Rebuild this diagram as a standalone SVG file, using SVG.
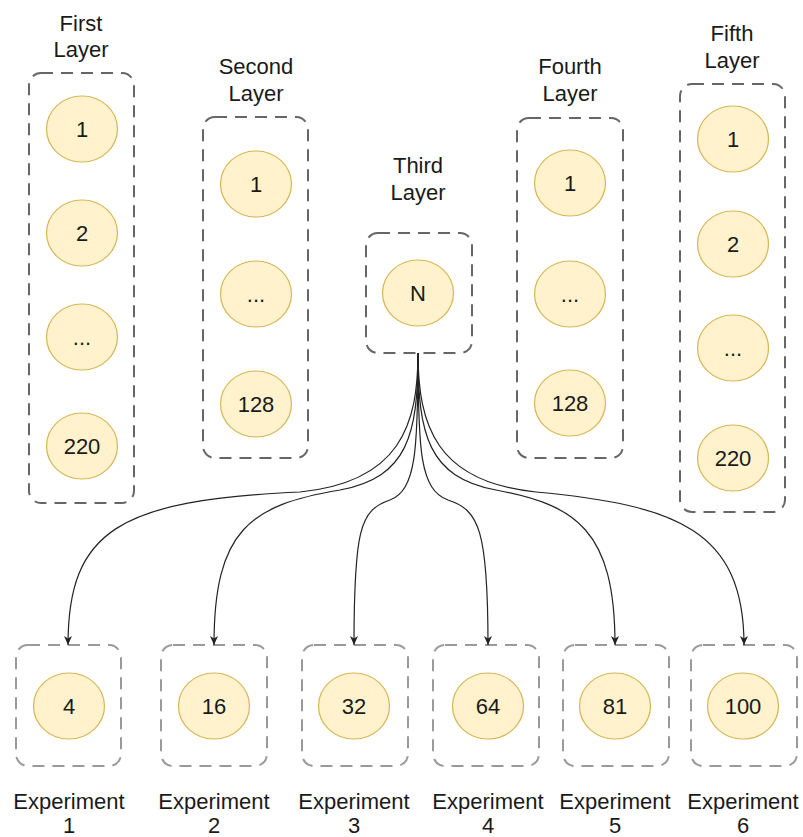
<svg xmlns="http://www.w3.org/2000/svg" width="803" height="837" viewBox="0 0 803 837">
  <style>
    .box { fill: none; stroke: #666; stroke-width: 2; stroke-dasharray: 12 8; }
    .exp { fill: none; stroke: #999; stroke-width: 2; stroke-dasharray: 12 8; }
    .neuron { fill: #fff2cc; stroke: #d6b656; stroke-width: 1.2; }
    .t { font-family: "Liberation Sans", Arial, Helvetica, sans-serif; font-size: 22px; fill: #1a1a1a; text-anchor: middle; }
    .edge { fill: none; stroke: #222; stroke-width: 1.2; marker-end: url(#arrow); }
  </style>
  <defs>
    <marker id="arrow" markerUnits="userSpaceOnUse" markerWidth="10" markerHeight="8" refX="9" refY="4" orient="auto">
      <path d="M0,0 L9,4 L0,8 L2.5,4 z" fill="#222"/>
    </marker>
  </defs>
  <rect width="803" height="837" fill="#fff"/>

  <!-- first layer -->
  <g id="layer1">
    <text class="t" x="81" y="31">First</text>
    <text class="t" x="81" y="57">Layer</text>
    <rect class="box" x="29" y="73" width="105" height="430" rx="12"/>
    <ellipse class="neuron" cx="82" cy="129" rx="35.5" ry="33"/>
    <text class="t" x="82" y="137">1</text>
    <ellipse class="neuron" cx="82" cy="233" rx="35.5" ry="33"/>
    <text class="t" x="82" y="241">2</text>
    <ellipse class="neuron" cx="82" cy="337" rx="35.5" ry="33"/>
    <text class="t" x="82" y="345">...</text>
    <ellipse class="neuron" cx="82" cy="446" rx="35.5" ry="33"/>
    <text class="t" x="82" y="454">220</text>
  </g>

  <!-- second layer -->
  <g id="layer2">
    <text class="t" x="256" y="74">Second</text>
    <text class="t" x="256" y="101">Layer</text>
    <rect class="box" x="203" y="117" width="105" height="341" rx="12"/>
    <ellipse class="neuron" cx="256" cy="184" rx="35.5" ry="33"/>
    <text class="t" x="256" y="192">1</text>
    <ellipse class="neuron" cx="256" cy="294" rx="35.5" ry="33"/>
    <text class="t" x="256" y="302">...</text>
    <ellipse class="neuron" cx="256" cy="404" rx="35.5" ry="33"/>
    <text class="t" x="256" y="412">128</text>
  </g>

  <!-- third layer -->
  <g id="layer3">
    <text class="t" x="418" y="173">Third</text>
    <text class="t" x="418" y="200">Layer</text>
    <rect class="box" x="366" y="233" width="106" height="120" rx="12"/>
    <ellipse class="neuron" cx="418" cy="293" rx="35.5" ry="33"/>
    <text class="t" x="418" y="301">N</text>
  </g>

  <!-- fourth layer -->
  <g id="layer4">
    <text class="t" x="570" y="74">Fourth</text>
    <text class="t" x="570" y="101">Layer</text>
    <rect class="box" x="517" y="118" width="106" height="340" rx="12"/>
    <ellipse class="neuron" cx="570" cy="183" rx="35.5" ry="33"/>
    <text class="t" x="570" y="191">1</text>
    <ellipse class="neuron" cx="570" cy="294" rx="35.5" ry="33"/>
    <text class="t" x="570" y="302">...</text>
    <ellipse class="neuron" cx="570" cy="403" rx="35.5" ry="33"/>
    <text class="t" x="570" y="411">128</text>
  </g>

  <!-- fifth layer -->
  <g id="layer5">
    <text class="t" x="732" y="41">Fifth</text>
    <text class="t" x="732" y="68">Layer</text>
    <rect class="box" x="680" y="84" width="105" height="428" rx="12"/>
    <ellipse class="neuron" cx="733" cy="139" rx="35.5" ry="33"/>
    <text class="t" x="733" y="147">1</text>
    <ellipse class="neuron" cx="733" cy="244" rx="35.5" ry="33"/>
    <text class="t" x="733" y="252">2</text>
    <ellipse class="neuron" cx="733" cy="348" rx="35.5" ry="33"/>
    <text class="t" x="733" y="356">...</text>
    <ellipse class="neuron" cx="733" cy="458" rx="35.5" ry="33"/>
    <text class="t" x="733" y="466">220</text>
  </g>

  <!-- experiments -->
  <g id="exp1">
    <rect class="exp" x="16" y="645" width="105" height="121" rx="12"/>
    <ellipse class="neuron" cx="69" cy="706" rx="35.5" ry="33"/>
    <text class="t" x="69" y="714">4</text>
    <text class="t" x="69" y="809">Experiment</text>
    <text class="t" x="69" y="833">1</text>
  </g>
  <g id="exp2">
    <rect class="exp" x="161" y="645" width="106" height="121" rx="12"/>
    <ellipse class="neuron" cx="214" cy="706" rx="35.5" ry="33"/>
    <text class="t" x="214" y="714">16</text>
    <text class="t" x="214" y="809">Experiment</text>
    <text class="t" x="214" y="833">2</text>
  </g>
  <g id="exp3">
    <rect class="exp" x="302" y="645" width="106" height="121" rx="12"/>
    <ellipse class="neuron" cx="354" cy="706" rx="35.5" ry="33"/>
    <text class="t" x="354" y="714">32</text>
    <text class="t" x="354" y="809">Experiment</text>
    <text class="t" x="354" y="833">3</text>
  </g>
  <g id="exp4">
    <rect class="exp" x="433" y="645" width="106" height="121" rx="12"/>
    <ellipse class="neuron" cx="488" cy="706" rx="35.5" ry="33"/>
    <text class="t" x="488" y="714">64</text>
    <text class="t" x="488" y="809">Experiment</text>
    <text class="t" x="488" y="833">4</text>
  </g>
  <g id="exp5">
    <rect class="exp" x="563" y="645" width="106" height="121" rx="12"/>
    <ellipse class="neuron" cx="615" cy="706" rx="35.5" ry="33"/>
    <text class="t" x="615" y="714">81</text>
    <text class="t" x="615" y="809">Experiment</text>
    <text class="t" x="615" y="833">5</text>
  </g>
  <g id="exp6">
    <rect class="exp" x="691" y="645" width="106" height="121" rx="12"/>
    <ellipse class="neuron" cx="743" cy="706" rx="35.5" ry="33"/>
    <text class="t" x="743" y="714">100</text>
    <text class="t" x="743" y="809">Experiment</text>
    <text class="t" x="743" y="833">6</text>
  </g>

  <!-- connectors from the third layer to each experiment -->
  <g id="connectors">
    <path class="edge" d="M418,353 C418,425 400,482 300,492 C120,500 68,530 68,645"/>
    <path class="edge" d="M418,353 C418,435 408,477 340,490 C250,505 214,530 214,645"/>
    <path class="edge" d="M418,353 C418,450 416,490 390,500 C360,510 354,530 354,645"/>
    <path class="edge" d="M418,353 C418,450 420,490 448,500 C479,510 488,530 488,645"/>
    <path class="edge" d="M418,353 C418,435 428,477 496,490 C576,505 615,530 615,645"/>
    <path class="edge" d="M418,353 C418,425 436,482 536,492 C676,505 744,530 744,645"/>
  </g>
</svg>
